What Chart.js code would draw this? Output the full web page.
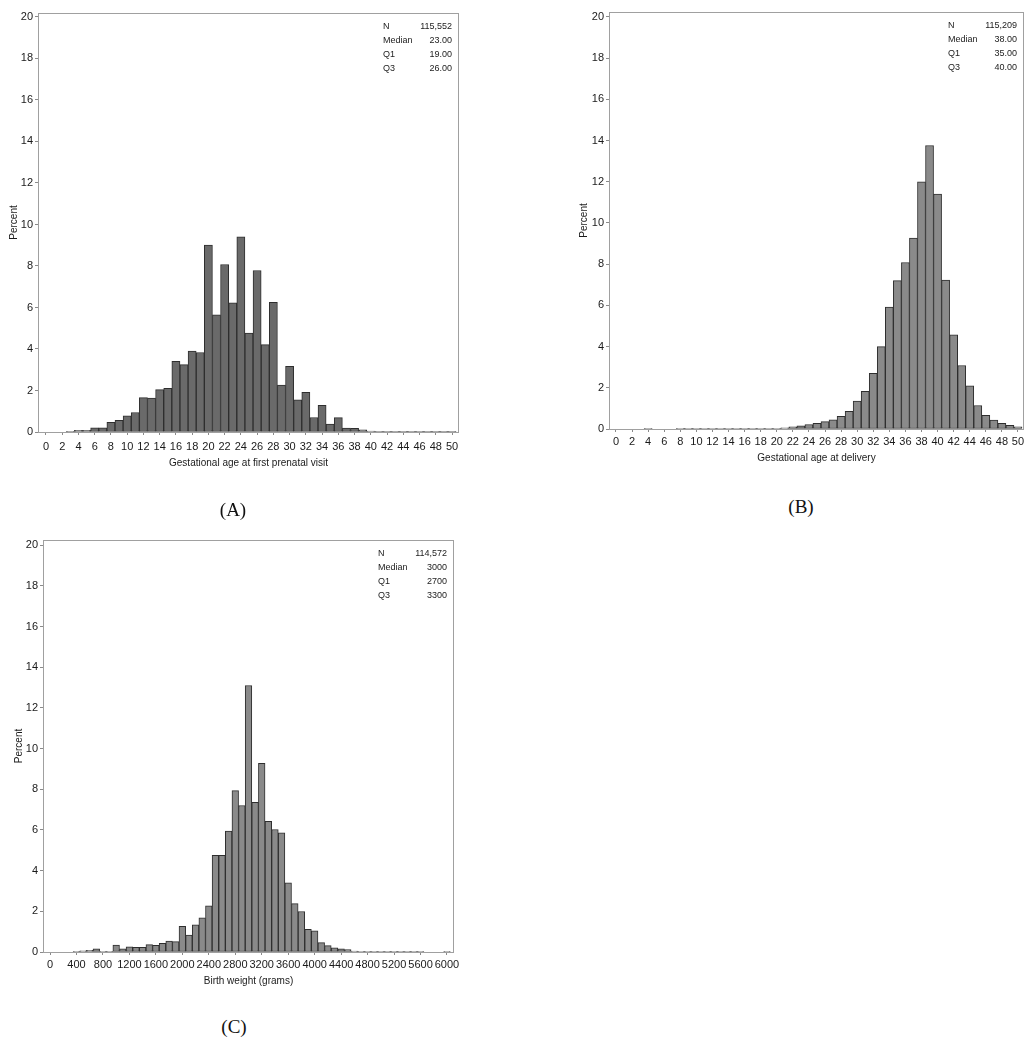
<!DOCTYPE html>
<html>
<head>
<meta charset="utf-8">
<script src="https://cdn.jsdelivr.net/npm/chart.js@4.4.0/dist/chart.umd.min.js"></script>
<style>
  body { margin: 0; background: #fff; width: 1036px; height: 1050px; position: relative; overflow: hidden; }
  canvas { position: absolute; }
  .panel { position: absolute; font-family: "Liberation Serif", "Times New Roman", serif; font-size: 19px; color: #111; transform: translate(-50%, -50%); }
</style>
</head>
<body>
<canvas id="chartA" width="470" height="480" style="left:0;top:0"></canvas>
<canvas id="chartB" width="516" height="480" style="left:520px;top:0"></canvas>
<canvas id="chartC" width="470" height="480" style="left:0;top:520px"></canvas>
<div class="panel" style="left:233px;top:510px">(A)</div>
<div class="panel" style="left:801px;top:507px">(B)</div>
<div class="panel" style="left:234px;top:1027px">(C)</div>

<script>
// bins (weeks) for A and B
const weeks = [0,1,2,3,4,5,6,7,8,9,10,11,12,13,14,15,16,17,18,19,20,21,22,23,24,25,
               26,27,28,29,30,31,32,33,34,35,36,37,38,39,40,41,42,43,44,45,46,47,48,49,50];
const weekTicks = [0,2,4,6,8,10,12,14,16,18,20,22,24,26,28,30,32,34,36,38,40,42,44,46,48,50];

// (A) gestational age at first prenatal visit, percent
const firstVisitPct = [0,0,0,0.02,0.08,0.08,0.2,0.2,0.46,0.56,0.78,0.94,1.66,1.63,2.04,2.1,
                       3.41,3.25,3.9,3.83,9.01,5.65,8.07,6.22,9.41,4.77,7.78,4.21,6.25,2.26,
                       3.16,1.55,1.91,0.7,1.29,0.38,0.69,0.19,0.18,0.1,0.05,0.03,0.01,0.01,
                       0.01,0.01,0.01,0.01,0.01,0.01,0.01];

// (B) gestational age at delivery, percent
const deliveryPct = [0,0,0,0,0.02,0,0,0,0.01,0.01,0.01,0.01,0.01,0.01,0.01,0.01,
                     0.02,0.02,0.02,0.02,0.03,0.06,0.1,0.15,0.22,0.28,0.36,0.45,0.62,0.86,
                     1.35,1.83,2.7,4.0,5.92,7.2,8.08,9.27,12.0,13.76,11.4,7.23,4.57,3.08,
                     2.09,1.14,0.66,0.43,0.27,0.18,0.11];

// (C) birth weight bins (grams), percent
const weightBins = [0,100,200,300,400,500,600,700,800,900,1000,1100,1200,1300,1400,1500,
                    1600,1700,1800,1900,2000,2100,2200,2300,2400,2500,2600,2700,2800,2900,
                    3000,3100,3200,3300,3400,3500,3600,3700,3800,3900,4000,4100,4200,4300,
                    4400,4500,4600,4700,4800,4900,5000,5100,5200,5300,5400,5500,5600,5700,
                    5800,5900,6000];
const weightTicks = [0,400,800,1200,1600,2000,2400,2800,3200,3600,4000,4400,4800,5200,5600,6000];
const birthWeightPct = [0,0,0,0,0.01,0.06,0.08,0.16,0.02,0.02,0.34,0.16,0.26,0.23,0.23,0.36,
                        0.33,0.42,0.54,0.51,1.26,0.83,1.34,1.68,2.27,4.75,4.75,5.94,7.93,7.2,
                        13.1,7.36,9.27,6.42,6.02,5.86,3.4,2.38,1.99,1.11,1.04,0.46,0.31,0.2,
                        0.15,0.12,0.05,0.03,0.02,0.02,0.02,0.01,0.01,0.01,0.01,0.01,0.01,0,
                        0,0,0.03];

const percentTicks = [0,2,4,6,8,10,12,14,16,18,20];

// inset statistics
const statLabels = ['N', 'Median', 'Q1', 'Q3'];
const statsA = ['115,552', '23.00', '19.00', '26.00'];
const statsB = ['115,209', '38.00', '35.00', '40.00'];
const statsC = ['114,572', '3000', '2700', '3300'];

const FONT = '"Liberation Sans", Arial, sans-serif';

// frame round the plot area + stats box in the top right corner
const frameBox = {
    id: 'frameBox',
    beforeDatasetsDraw(chart) {
        const { ctx, chartArea: a } = chart;
        ctx.save();
        ctx.strokeStyle = '#a0a0a0';
        ctx.lineWidth = 1;
        ctx.strokeRect(Math.round(a.left) + 0.5, Math.round(a.top) + 0.5,
                       Math.round(a.width) - 1, Math.round(a.height));
        ctx.restore();
    },
    afterDraw(chart, args, opts) {
        const { ctx, chartArea: a } = chart;
        ctx.save();
        ctx.font = '9px ' + FONT;
        ctx.fillStyle = '#222';
        ctx.textBaseline = 'middle';
        opts.stats.forEach((val, i) => {
            const y = a.top + 14 + i * 13.7;
            ctx.textAlign = 'left';
            ctx.fillText(statLabels[i], a.right - 76, y);
            ctx.textAlign = 'right';
            ctx.fillText(val, a.right - 7, y);
        });
        ctx.restore();
    }
};

function generateHistogram(canvasId, bins, values, xTicks, setup) {
    const chartData = {
        datasets: [{
            data: bins.map((b, i) => ({ x: b, y: values[i] })),
            backgroundColor: setup.fill,
            borderColor: '#2e2e2e',
            borderWidth: 1,
            borderSkipped: false,
            barPercentage: 1,
            categoryPercentage: 1
        }]
    };

    const config = {
        type: 'bar',
        data: chartData,
        options: {
            responsive: false,
            animation: false,
            layout: { padding: setup.pad },
            plugins: {
                legend: { display: false },
                tooltip: { enabled: false },
                frameBox: { stats: setup.stats }
            },
            scales: {
                x: {
                    type: 'linear',
                    min: setup.xMin,
                    max: setup.xMax,
                    offset: false,
                    afterBuildTicks: s => { s.ticks = xTicks.map(v => ({ value: v })); },
                    afterFit: s => { s.height = setup.xHeight; },
                    grid: { offset: false, drawOnChartArea: false, tickLength: 3, color: '#8a8a8a' },
                    border: { display: false },
                    ticks: {
                        autoSkip: false, maxRotation: 0, padding: setup.xTickPad,
                        color: '#1a1a1a', font: { family: FONT, size: 11 },
                        callback: v => String(v)   // no thousands separator
                    },
                    title: {
                        display: true, text: setup.xTitle, color: '#1a1a1a',
                        padding: 0, font: { family: FONT, size: 10 }
                    }
                },
                y: {
                    min: 0,
                    max: setup.yMax,
                    afterBuildTicks: s => { s.ticks = percentTicks.map(v => ({ value: v })); },
                    afterFit: s => { s.width = setup.yWidth; },
                    grid: { drawOnChartArea: false, tickLength: 3, color: '#8a8a8a' },
                    border: { display: false },
                    ticks: {
                        padding: 2, color: '#1a1a1a', font: { family: FONT, size: 11 },
                        callback: v => String(v)
                    },
                    title: {
                        display: true, text: 'Percent', color: '#1a1a1a',
                        padding: 0, font: { family: FONT, size: 10 }
                    }
                }
            }
        },
        plugins: [frameBox]
    };

    return new Chart(document.getElementById(canvasId), config);
}

generateHistogram('chartA', weeks, firstVisitPct, weekTicks, {
    fill: '#6a6a6a', stats: statsA, xTitle: 'Gestational age at first prenatal visit',
    xMin: -0.98, xMax: 50.86, yMax: 20.19,
    pad: { left: 8, right: 11, top: 13, bottom: 11 },
    yWidth: 30, xHeight: 37, xTickPad: 5
});

generateHistogram('chartB', weeks, deliveryPct, weekTicks, {
    fill: '#8a8a8a', stats: statsB, xTitle: 'Gestational age at delivery',
    xMin: -0.87, xMax: 50.75, yMax: 20.24,
    pad: { left: 58, right: 12, top: 12, bottom: 16 },
    yWidth: 31, xHeight: 35, xTickPad: 3
});

generateHistogram('chartC', weightBins, birthWeightPct, weightTicks, {
    fill: '#8a8a8a', stats: statsC, xTitle: 'Birth weight (grams)',
    xMin: -106, xMax: 6106, yMax: 20.25,
    pad: { left: 13, right: 16, top: 20, bottom: 13 },
    yWidth: 30, xHeight: 35, xTickPad: 3
});
</script>
</body>
</html>
